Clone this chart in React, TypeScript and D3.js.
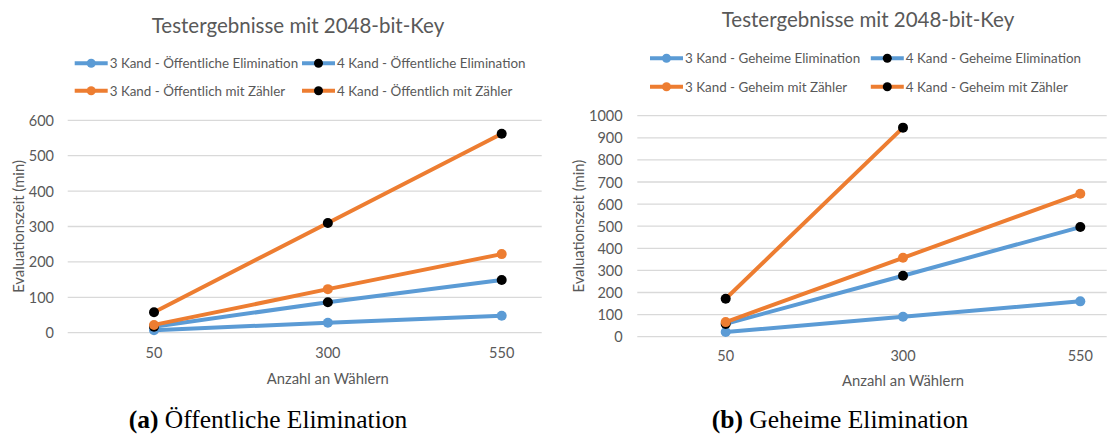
import React from "react";
import * as d3 from "d3";

// Number of voters on the category axis
const voters = [50, 300, 550];

// Öffentliche Elimination (minutes)
const pubElim3 = [7, 28, 48];
const pubElim4 = [17, 86, 149];
const pubCount3 = [22, 123, 222];
const pubCount4 = [58, 310, 562];

// Geheime Elimination (minutes)
const secElim3 = [21, 90, 160];
const secElim4 = [58, 276, 496];
const secCount3 = [66, 357, 647];
const secCount4 = [172, 946];

const leftTicks = [0, 100, 200, 300, 400, 500, 600];
const rightTicks = [0, 100, 200, 300, 400, 500, 600, 700, 800, 900, 1000];

const BLUE = "#5B9BD5";
const ORANGE = "#ED7D31";
const BLACK = "#000000";
const TEXT = "#595959";
const GRID = "#D9D9D9";
const FONT = "Lato, 'Open Sans', sans-serif";

type Series = { name: string; values: number[]; line: string; marker: string };

type PanelProps = {
  title: string;
  titleY: number;
  series: Series[];
  ticks: number[];
  yMax: number;
  xRange: [number, number];
  gridRange: [number, number];
  yRange: [number, number];
  tickRight: number;
  yTitleX: number;
  xLabelY: number;
  xTitleY: number;
  titleX: number;
  legendX: [number, number];
  legendY: [number, number];
};

function Panel(p: PanelProps) {
  const x = d3.scaleLinear().domain([voters[0], voters[voters.length - 1]]).range(p.xRange);
  const y = d3.scaleLinear().domain([0, p.yMax]).range(p.yRange);
  const line = d3
    .line<number>()
    .x((_, i) => x(voters[i]))
    .y((v) => y(v));
  const yMid = (p.yRange[0] + p.yRange[1]) / 2;
  const xMid = (p.xRange[0] + p.xRange[1]) / 2;
  return (
    <g fontFamily={FONT}>
      <text x={p.titleX} y={p.titleY} textAnchor="middle" dominantBaseline="central" fontSize={20.5} fill={TEXT}>
        {p.title}
      </text>
      {p.series.map((s, i) => {
        const col = i % 2;
        const row = Math.floor(i / 2);
        const lx = p.legendX[col];
        const ly = p.legendY[row];
        return (
          <g key={s.name}>
            <line x1={lx} x2={lx + 33} y1={ly} y2={ly} stroke={s.line} strokeWidth={4} />
            <circle cx={lx + 16.5} cy={ly} r={4.5} fill={s.marker} />
            <text x={lx + 35} y={ly} dominantBaseline="central" fontSize={13.4} fill={TEXT}>
              {s.name}
            </text>
          </g>
        );
      })}
      {p.ticks.map((t) => (
        <g key={t}>
          <line x1={p.gridRange[0]} x2={p.gridRange[1]} y1={y(t)} y2={y(t)} stroke={GRID} strokeWidth={1.3} />
          <text x={p.tickRight} y={y(t)} textAnchor="end" dominantBaseline="central" fontSize={14.5} fill={TEXT}>
            {t}
          </text>
        </g>
      ))}
      {voters.map((v) => (
        <text key={v} x={x(v)} y={p.xLabelY} textAnchor="middle" dominantBaseline="central" fontSize={14.5} fill={TEXT}>
          {v}
        </text>
      ))}
      <text
        transform={`translate(${p.yTitleX},${yMid}) rotate(-90)`}
        textAnchor="middle"
        dominantBaseline="central"
        fontSize={14.8}
        fill={TEXT}
      >
        Evaluationszeit (min)
      </text>
      <text x={xMid} y={p.xTitleY} textAnchor="middle" dominantBaseline="central" fontSize={14.8} fill={TEXT}>
        Anzahl an Wählern
      </text>
      {p.series.map((s) => (
        <g key={s.name}>
          <path d={line(s.values) ?? ""} fill="none" stroke={s.line} strokeWidth={4} strokeLinejoin="round" strokeLinecap="round" />
          {s.values.map((v, i) => (
            <circle key={i} cx={x(voters[i])} cy={y(v)} r={5} fill={s.marker} />
          ))}
        </g>
      ))}
    </g>
  );
}

export default function App() {
  const leftSeries: Series[] = [
    { name: "3 Kand - Öffentliche Elimination", values: pubElim3, line: BLUE, marker: BLUE },
    { name: "4 Kand - Öffentliche Elimination", values: pubElim4, line: BLUE, marker: BLACK },
    { name: "3 Kand - Öffentlich mit Zähler", values: pubCount3, line: ORANGE, marker: ORANGE },
    { name: "4 Kand - Öffentlich mit Zähler", values: pubCount4, line: ORANGE, marker: BLACK },
  ];
  const rightSeries: Series[] = [
    { name: "3 Kand - Geheime Elimination", values: secElim3, line: BLUE, marker: BLUE },
    { name: "4 Kand - Geheime Elimination", values: secElim4, line: BLUE, marker: BLACK },
    { name: "3 Kand - Geheim mit Zähler", values: secCount3, line: ORANGE, marker: ORANGE },
    { name: "4 Kand - Geheim mit Zähler", values: secCount4, line: ORANGE, marker: BLACK },
  ];
  return (
    <svg
      width={1107}
      height={434}
      style={{ position: "absolute", left: 0, top: 0, background: "#fff" }}
    >
      <rect width={1107} height={434} fill="#fff" />
      <Panel
        title="Testergebnisse mit 2048-bit-Key"
        titleX={298}
        titleY={25}
        series={leftSeries}
        ticks={leftTicks}
        yMax={600}
        xRange={[154, 501.7]}
        gridRange={[67.7, 541.7]}
        yRange={[332.7, 120.3]}
        tickRight={54}
        yTitleX={18.3}
        xLabelY={352}
        xTitleY={378}
        legendX={[74.7, 302]}
        legendY={[63.3, 90.7]}
      />
      <Panel
        title="Testergebnisse mit 2048-bit-Key"
        titleX={868}
        titleY={18.5}
        series={rightSeries}
        ticks={rightTicks}
        yMax={1000}
        xRange={[725.7, 1080.3]}
        gridRange={[637.3, 1106.7]}
        yRange={[336.7, 115.7]}
        tickRight={622.7}
        yTitleX={578.3}
        xLabelY={355}
        xTitleY={380}
        legendX={[650, 870.8]}
        legendY={[58.3, 86.7]}
      />
      <g fontFamily="'Liberation Serif', 'Times New Roman', serif" fontSize={25.5} fill="#000">
        <text x={268} y={419} textAnchor="middle" dominantBaseline="central">
          <tspan fontWeight="bold">(a)</tspan> Öffentliche Elimination
        </text>
        <text x={840} y={419} textAnchor="middle" dominantBaseline="central">
          <tspan fontWeight="bold">(b)</tspan> Geheime Elimination
        </text>
      </g>
    </svg>
  );
}
